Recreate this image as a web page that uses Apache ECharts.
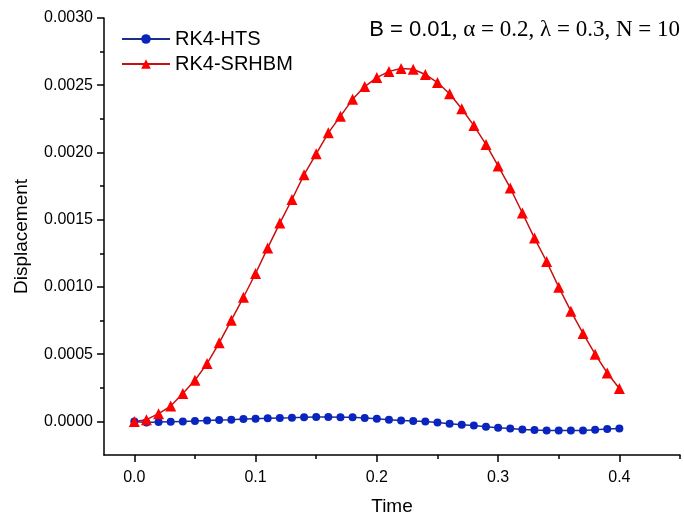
<!DOCTYPE html>
<html>
<head>
<meta charset="utf-8">
<script src="https://cdn.jsdelivr.net/npm/echarts@6/dist/echarts.min.js"></script>
<style>
  html, body { margin: 0; padding: 0; background: #fff; }
  #chart { width: 684px; height: 520px; }
</style>
</head>
<body>
<div id="chart"></div>
<script>
const times = [
  0, 0.01, 0.02, 0.03, 0.04, 0.05, 0.06, 0.07, 0.08, 0.09,
  0.1, 0.11, 0.12, 0.13, 0.14, 0.15, 0.16, 0.17, 0.18, 0.19,
  0.2, 0.21, 0.22, 0.23, 0.24, 0.25, 0.26, 0.27, 0.28, 0.29,
  0.3, 0.31, 0.32, 0.33, 0.34, 0.35, 0.36, 0.37, 0.38, 0.39, 0.4
];
const hts = [
  0, -0.0000075, -0.000005, -0.0000025, 0, 0.0000025, 0.0000075, 0.00001, 0.0000125, 0.0000174,
  0.00002, 0.0000224, 0.000025, 0.0000274, 0.00003, 0.0000323, 0.0000323, 0.00003, 0.00003, 0.000025,
  0.00002, 0.0000124, 0.0000075, 0.0000025, 0, -0.0000075, -0.0000174, -0.0000249, -0.0000298, -0.0000398,
  -0.0000472, -0.0000522, -0.0000597, -0.0000647, -0.000067, -0.000067, -0.000067, -0.000067, -0.000062, -0.000057,
  -0.000052
];
const srhbm = [
  0, 0.0000125, 0.0000575, 0.000114, 0.000207, 0.000306, 0.00043, 0.000584, 0.000753, 0.000923,
  0.0011, 0.00129, 0.001475, 0.00165, 0.001835, 0.00199, 0.002146, 0.00227, 0.002395, 0.00249,
  0.002557, 0.002603, 0.002624, 0.002619, 0.00258, 0.00252, 0.002437, 0.002325, 0.0022, 0.00206,
  0.0019, 0.001736, 0.00155, 0.001363, 0.001189, 0.000998, 0.00082, 0.000654, 0.0005, 0.00036,
  0.000244
];
const xTicks = [0, 0.1, 0.2, 0.3, 0.4];
const xMinorTicks = [0.05, 0.15, 0.25, 0.35, 0.45];
const yTicks = [0, 0.0005, 0.001, 0.0015, 0.002, 0.0025, 0.003];
const yMinorTicks = [0.00025, 0.00075, 0.00125, 0.00175, 0.00225, 0.00275];

const font = "Liberation Sans, Arial, sans-serif";
const axisLine = { show: true, onZero: false, lineStyle: { color: '#000', width: 1.5 } };

function pairs(ys) { return times.map((t, i) => [t, ys[i]]); }

const chart = echarts.init(document.getElementById('chart'));
chart.setOption({
  animation: false,
  backgroundColor: '#fff',
  grid: { left: 104, right: 4, top: 18, bottom: 65, outerBoundsMode: 'none' },
  legend: {
    orient: 'vertical',
    left: 116, top: 24,
    itemWidth: 48, itemHeight: 12, itemGap: 5,
    textStyle: { fontFamily: font, fontSize: 20, color: '#000', lineHeight: 19 },
    data: ['RK4-HTS', 'RK4-SRHBM']
  },
  graphic: [{
    type: 'text',
    right: 4, top: 18,
    style: {
      text: '{a|B = 0.01}{b|, α = 0.2, λ = 0.3, N = 10}',
      rich: {
        a: { fontFamily: font, fontSize: 22, fill: '#000' },
        b: { fontFamily: 'Liberation Serif, Times New Roman, serif', fontSize: 23, fill: '#000' }
      }
    }
  }],
  xAxis: [{
    type: 'value', min: -0.025, max: 0.45,
    name: 'Time', nameLocation: 'middle', nameGap: 42,
    nameTextStyle: { fontFamily: font, fontSize: 19, color: '#000' },
    axisLine,
    splitLine: { show: false },
    axisTick: { show: true, length: 7, customValues: xTicks, lineStyle: { color: '#000', width: 1.5 } },
    axisLabel: { customValues: xTicks, fontFamily: font, fontSize: 16, color: '#000', margin: 15,
      formatter: v => v.toFixed(1) }
  }, {
    type: 'value', min: -0.025, max: 0.45, position: 'bottom',
    axisLine: { show: false, onZero: false },
    splitLine: { show: false },
    axisTick: { show: true, length: 4, customValues: xMinorTicks, lineStyle: { color: '#000', width: 1.5 } },
    axisLabel: { show: false }
  }],
  yAxis: [{
    type: 'value', min: -0.00025, max: 0.003,
    name: 'Displacement', nameLocation: 'middle', nameGap: 73, nameRotate: 90,
    nameTextStyle: { fontFamily: font, fontSize: 19, color: '#000' },
    axisLine,
    splitLine: { show: false },
    axisTick: { show: true, length: 7, customValues: yTicks, lineStyle: { color: '#000', width: 1.5 } },
    axisLabel: { customValues: yTicks, fontFamily: font, fontSize: 16, color: '#000', margin: 11,
      formatter: v => v.toFixed(4) }
  }, {
    type: 'value', min: -0.00025, max: 0.003, position: 'left',
    axisLine: { show: false, onZero: false },
    splitLine: { show: false },
    axisTick: { show: true, length: 4, customValues: yMinorTicks, lineStyle: { color: '#000', width: 1.5 } },
    axisLabel: { show: false }
  }],
  series: [{
    name: 'RK4-HTS',
    type: 'line',
    data: pairs(hts),
    symbol: 'circle', symbolSize: 8,
    itemStyle: { color: '#0a24c0' },
    lineStyle: { color: '#1a2e8c', width: 1.5 }
  }, {
    name: 'RK4-SRHBM',
    type: 'line',
    data: pairs(srhbm),
    symbol: 'triangle', symbolSize: 11,
    itemStyle: { color: '#ff0000' },
    lineStyle: { color: '#c81010', width: 1.5 }
  }]
});
</script>
</body>
</html>
